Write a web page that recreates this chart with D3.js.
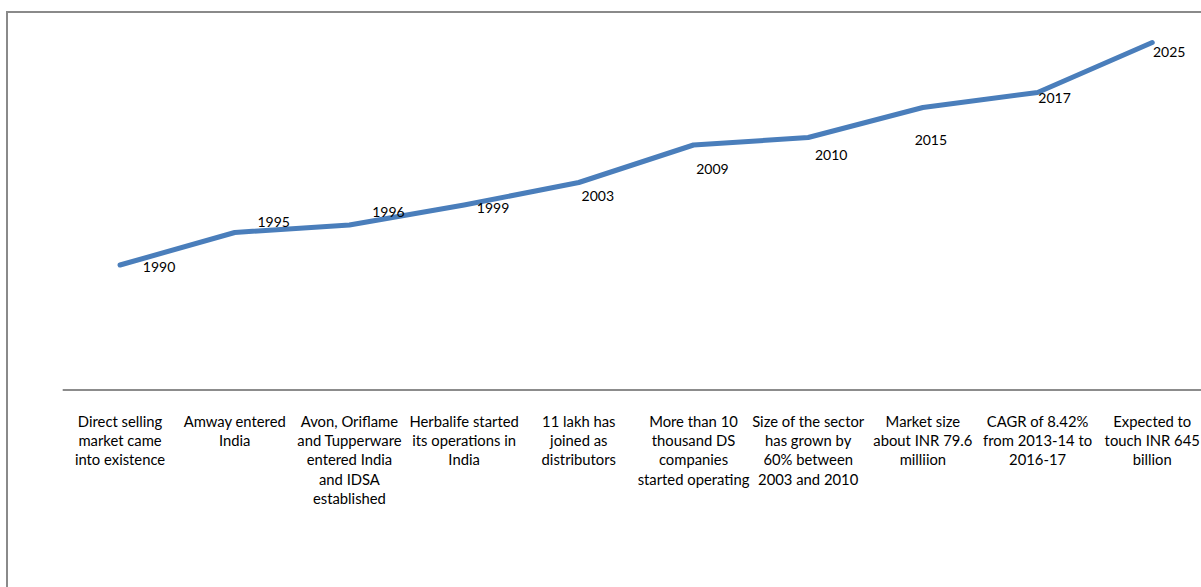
<!DOCTYPE html>
<html>
<head>
<meta charset="utf-8">
<script src="https://cdn.jsdelivr.net/npm/d3@7"></script>
<style>
  html, body { margin: 0; padding: 0; background: #fff; }
  svg { display: block; font-family: Lato, "Liberation Sans", sans-serif; }
</style>
</head>
<body>
<svg id="chart" width="1201" height="587"></svg>
<script>
// Milestones of the direct selling industry in India
const years = ["1990", "1995", "1996", "1999", "2003", "2009", "2010", "2015", "2017", "2025"];

const growthIndex = [5.0, 6.3, 6.6, 7.4, 8.3, 9.8, 10.1, 11.3, 11.9, 13.9];

const milestones = [
  ["Direct selling", "market came", "into existence"],
  ["Amway entered", "India"],
  ["Avon, Oriflame", "and Tupperware", "entered India", "and IDSA", "established"],
  ["Herbalife started", "its operations in", "India"],
  ["11 lakh has", "joined as", "distributors"],
  ["More than 10", "thousand DS", "companies", "started operating"],
  ["Size of the sector", "has grown by", "60% between", "2003 and 2010"],
  ["Market size", "about INR 79.6", "milliion"],
  ["CAGR of 8.42%", "from 2013-14 to", "2016-17"],
  ["Expected to", "touch INR 645", "billion"]
];

// Hand-placed offsets of each year label from its point
const labelNudge = [
  [39, 1], [39, -11], [39, -14], [29, 2], [19, 13],
  [19, 23], [23, 17], [8, 32], [17, 5], [17, 9]
];

const svg = d3.select("#chart");
const axisY = 390;

const x = d3.scaleBand()
  .domain(years)
  .range([62.7, 1209.6]);

const y = d3.scaleLinear()
  .domain([0, 14])
  .range([axisY, 40]);

const cx = d => x(d) + x.bandwidth() / 2;

// Chart frame (left and top edges are visible)
svg.append("path")
  .attr("d", "M7,600 V12 H1210")
  .attr("fill", "none")
  .attr("stroke", "#8a8a8a")
  .attr("stroke-width", 2);

// Category axis
const axis = svg.append("g")
  .attr("transform", `translate(0,${axisY})`)
  .call(d3.axisBottom(x).tickSize(0).tickFormat(""));
axis.select(".domain")
  .attr("d", `M${x.range()[0]},0H${x.range()[1]}`)
  .attr("stroke", "#8c8c8c")
  .attr("stroke-width", 2);

// Wrapped milestone descriptions under the axis
const cat = svg.append("g")
  .selectAll("text")
  .data(years)
  .join("text")
  .attr("x", d => cx(d))
  .attr("y", 426.5)
  .attr("text-anchor", "middle")
  .attr("font-size", 14.8)
  .attr("fill", "#000");

cat.each(function(d, i) {
  d3.select(this).selectAll("tspan")
    .data(milestones[i])
    .join("tspan")
    .attr("x", cx(d))
    .attr("dy", (t, j) => j === 0 ? 0 : 19.4)
    .text(t => t);
});

// Trend line
const line = d3.line()
  .x((v, i) => cx(years[i]))
  .y(v => y(v));

svg.append("path")
  .datum(growthIndex)
  .attr("d", line)
  .attr("fill", "none")
  .attr("stroke", "#4A7EBB")
  .attr("stroke-width", 5)
  .attr("stroke-linejoin", "round")
  .attr("stroke-linecap", "round");

// Year labels beside the points
svg.append("g")
  .selectAll("text")
  .data(growthIndex)
  .join("text")
  .attr("x", (v, i) => cx(years[i]) + labelNudge[i][0])
  .attr("y", (v, i) => y(v) + labelNudge[i][1])
  .attr("text-anchor", "middle")
  .attr("dominant-baseline", "central")
  .attr("font-size", 14)
  .attr("fill", "#000")
  .text((v, i) => years[i]);
</script>
</body>
</html>
